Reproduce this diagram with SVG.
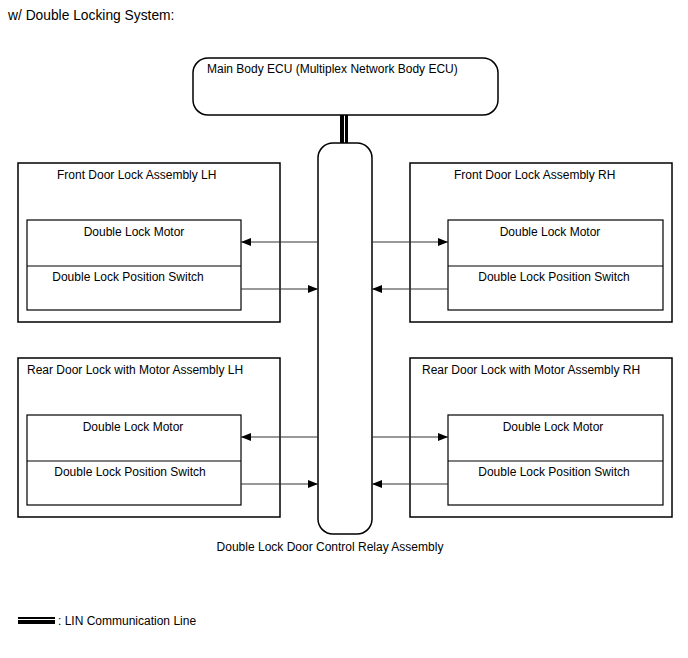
<svg xmlns="http://www.w3.org/2000/svg" width="688" height="658" viewBox="0 0 688 658">
<defs>
<style>
text{font-family:"Liberation Sans",Arial,sans-serif;font-size:12px;fill:#000}
.box{fill:#fff;stroke:#000;stroke-width:1.5}
.in{fill:#fff;stroke:#000;stroke-width:1.2}
.c{text-anchor:middle}
.ar{stroke:#333;stroke-width:1;fill:none;marker-end:url(#ah)}
</style>
<marker id="ah" markerWidth="10" markerHeight="8" refX="10" refY="4" orient="auto" markerUnits="userSpaceOnUse">
<path d="M0,0 L10,4 L0,8 Z" fill="#000"/>
</marker>
</defs>
<rect width="688" height="658" fill="#fff"/>
<text x="8" y="20" style="font-size:13.8px">w/ Double Locking System:</text>

<g id="lin">
<rect x="340" y="115" width="8" height="29" fill="#000"/>
<line x1="344.5" y1="115" x2="344.5" y2="144" stroke="#fff" stroke-width="1"/>
</g>

<g id="ecu">
<rect class="box" x="193" y="58" width="305" height="57" rx="15"/>
<text x="207" y="73">Main Body ECU (Multiplex Network Body ECU)</text>
</g>

<g id="relay">
<rect class="box" x="318" y="143" width="54" height="391" rx="15"/>
<text class="c" x="330" y="551">Double Lock Door Control Relay Assembly</text>
</g>

<g id="front-lh">
<rect class="box" x="18" y="163" width="262" height="159"/>
<text x="57" y="179">Front Door Lock Assembly LH</text>
<rect class="in" x="27" y="220" width="214" height="90"/>
<line x1="27" y1="266" x2="241" y2="266" stroke="#000" stroke-width="1.2"/>
<text class="c" x="134" y="236">Double Lock Motor</text>
<text class="c" x="128" y="281">Double Lock Position Switch</text>
</g>

<g id="front-rh">
<rect class="box" x="410" y="163" width="262" height="159"/>
<text x="454" y="179">Front Door Lock Assembly RH</text>
<rect class="in" x="448" y="220" width="215" height="90"/>
<line x1="448" y1="266" x2="663" y2="266" stroke="#000" stroke-width="1.2"/>
<text class="c" x="550" y="236">Double Lock Motor</text>
<text class="c" x="554" y="281">Double Lock Position Switch</text>
</g>

<g id="rear-lh">
<rect class="box" x="18" y="358" width="262" height="159"/>
<text x="27" y="374">Rear Door Lock with Motor Assembly LH</text>
<rect class="in" x="27" y="415" width="214" height="90"/>
<line x1="27" y1="461" x2="241" y2="461" stroke="#000" stroke-width="1.2"/>
<text class="c" x="133" y="431">Double Lock Motor</text>
<text class="c" x="130" y="476">Double Lock Position Switch</text>
</g>

<g id="rear-rh">
<rect class="box" x="410" y="358" width="262" height="159"/>
<text x="422" y="374">Rear Door Lock with Motor Assembly RH</text>
<rect class="in" x="448" y="415" width="215" height="90"/>
<line x1="448" y1="461" x2="663" y2="461" stroke="#000" stroke-width="1.2"/>
<text class="c" x="553" y="431">Double Lock Motor</text>
<text class="c" x="554" y="476">Double Lock Position Switch</text>
</g>

<g id="connectors">
<line class="ar" x1="318" y1="242" x2="241" y2="242"/>
<line class="ar" x1="241" y1="289" x2="318" y2="289"/>
<line class="ar" x1="372" y1="242" x2="448" y2="242"/>
<line class="ar" x1="448" y1="289" x2="372" y2="289"/>
<line class="ar" x1="318" y1="437" x2="241" y2="437"/>
<line class="ar" x1="241" y1="484" x2="318" y2="484"/>
<line class="ar" x1="372" y1="437" x2="448" y2="437"/>
<line class="ar" x1="448" y1="484" x2="372" y2="484"/>
</g>

<g id="legend">
<rect x="18" y="617" width="37" height="7" fill="#000"/>
<line x1="18" y1="619.5" x2="55" y2="619.5" stroke="#fff" stroke-width="1"/>
<text x="58" y="625">: LIN Communication Line</text>
</g>
</svg>
